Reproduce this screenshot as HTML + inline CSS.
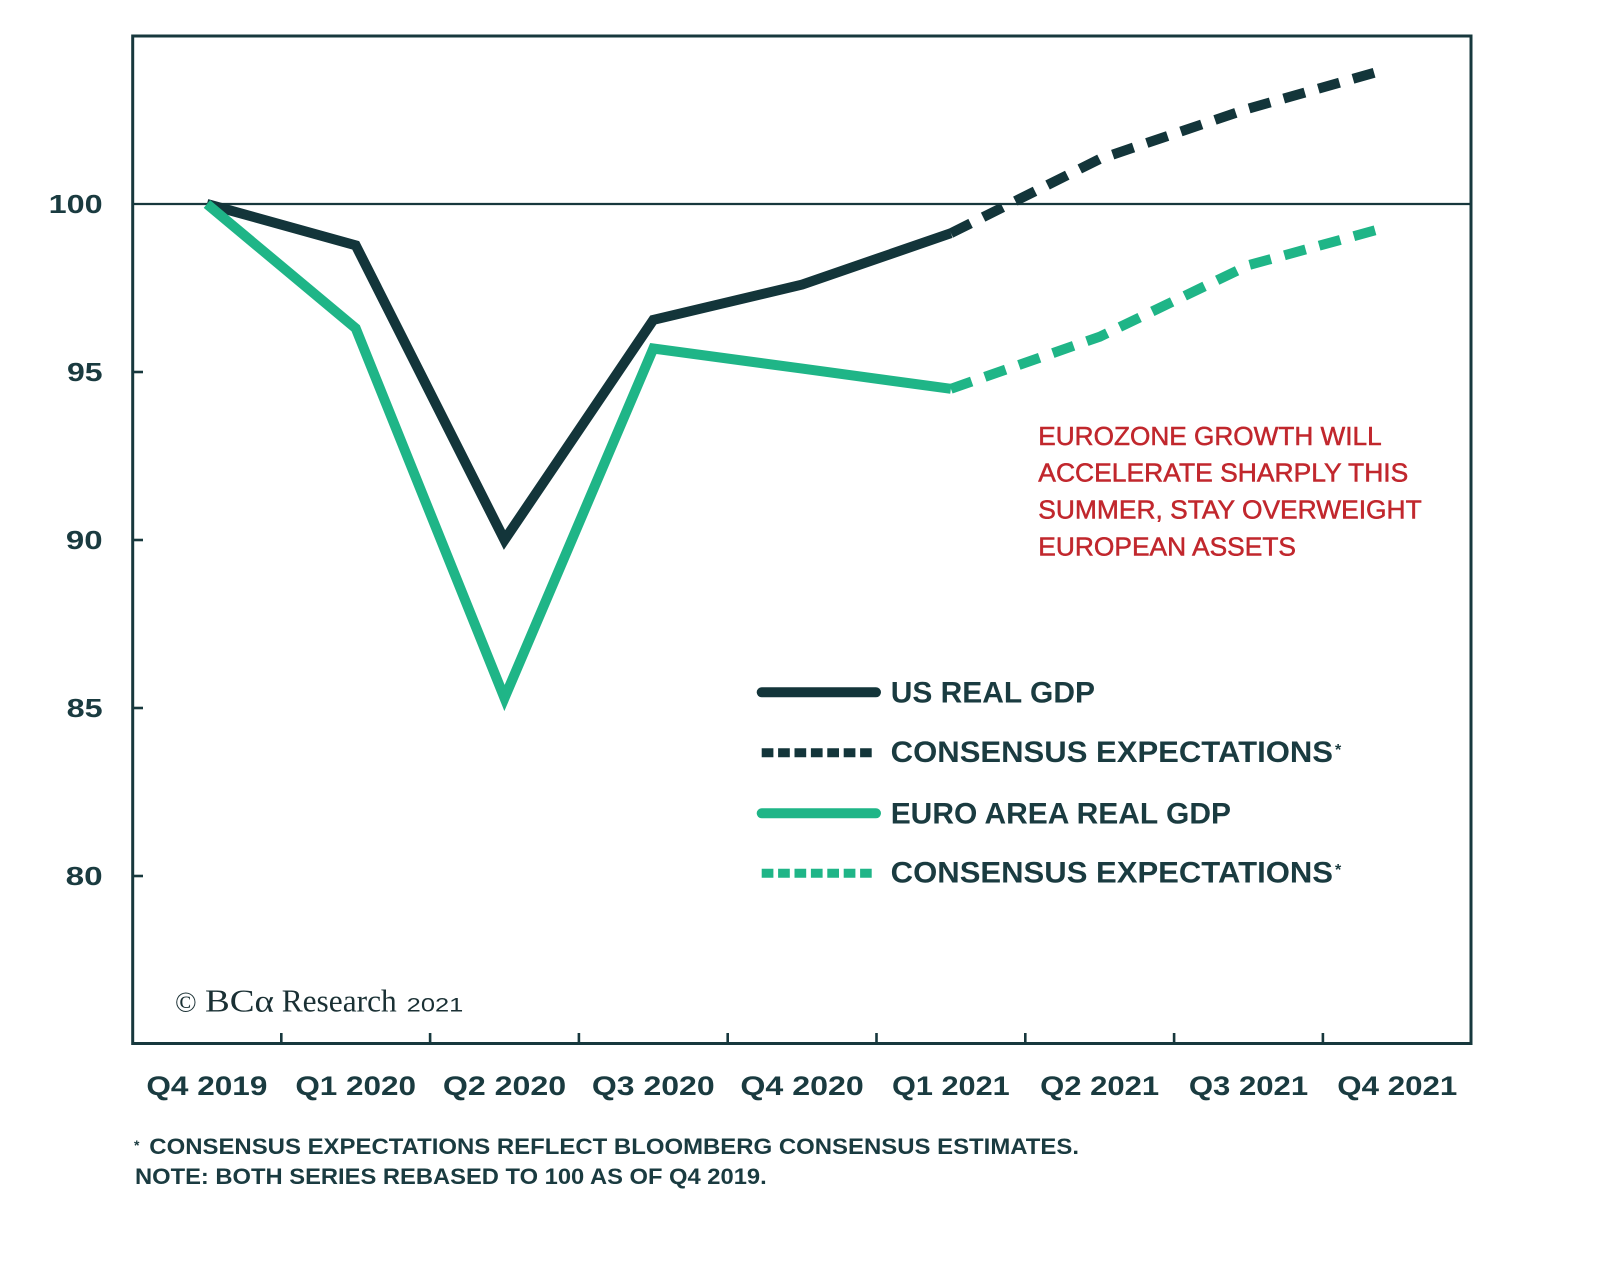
<!DOCTYPE html>
<html>
<head>
<meta charset="utf-8">
<style>
  html, body { margin: 0; padding: 0; background: #ffffff; }
  svg { display: block; }
  .ax { font-family: "Liberation Sans", sans-serif; font-weight: bold; fill: #1a3b40; }
  .lg { font-family: "Liberation Sans", sans-serif; font-weight: bold; fill: #1a3b40; }
  .an { font-family: "Liberation Sans", sans-serif; font-weight: normal; fill: #c1272d; stroke: #c1272d; stroke-width: 0.5; }
  .fn { font-family: "Liberation Sans", sans-serif; font-weight: bold; fill: #1a3b40; }
  .sf { font-family: "Liberation Serif", serif; fill: #1a3034; }
</style>
</head>
<body>
<svg width="1600" height="1274" viewBox="0 0 1600 1274" xmlns="http://www.w3.org/2000/svg">
  <rect x="0" y="0" width="1600" height="1274" fill="#ffffff"/>

  <!-- 100 gridline -->
  <line x1="133" y1="204" x2="1471" y2="204" stroke="#17383d" stroke-width="2.2"/>

  <!-- y ticks -->
  <g stroke="#17383d" stroke-width="2.6">
    <line x1="133" y1="372" x2="143" y2="372"/>
    <line x1="133" y1="540" x2="143" y2="540"/>
    <line x1="133" y1="708" x2="143" y2="708"/>
    <line x1="133" y1="876" x2="143" y2="876"/>
  </g>

  <!-- x ticks -->
  <g stroke="#17383d" stroke-width="2.6">
    <line x1="281.3" y1="1043" x2="281.3" y2="1033"/>
    <line x1="430.1" y1="1043" x2="430.1" y2="1033"/>
    <line x1="578.9" y1="1043" x2="578.9" y2="1033"/>
    <line x1="727.7" y1="1043" x2="727.7" y2="1033"/>
    <line x1="876.5" y1="1043" x2="876.5" y2="1033"/>
    <line x1="1025.3" y1="1043" x2="1025.3" y2="1033"/>
    <line x1="1174.1" y1="1043" x2="1174.1" y2="1033"/>
    <line x1="1322.9" y1="1043" x2="1322.9" y2="1033"/>
  </g>

  <!-- frame -->
  <rect x="132.7" y="36" width="1338.3" height="1007.5" fill="none" stroke="#17383d" stroke-width="3"/>

  <!-- y labels -->
  <g class="ax" font-size="26" text-anchor="end">
    <text x="102.6" y="213" textLength="54" lengthAdjust="spacingAndGlyphs">100</text>
    <text x="102.6" y="381" textLength="35.6" lengthAdjust="spacingAndGlyphs">95</text>
    <text x="102.6" y="549" textLength="36.7" lengthAdjust="spacingAndGlyphs">90</text>
    <text x="102.6" y="717" textLength="36" lengthAdjust="spacingAndGlyphs">85</text>
    <text x="102.6" y="885" textLength="37" lengthAdjust="spacingAndGlyphs">80</text>
  </g>

  <!-- x labels -->
  <g class="ax" font-size="27" text-anchor="middle">
    <text x="206.9" y="1095" textLength="121" lengthAdjust="spacingAndGlyphs">Q4 2019</text>
    <text x="355.7" y="1095" textLength="120.7" lengthAdjust="spacingAndGlyphs">Q1 2020</text>
    <text x="504.5" y="1095" textLength="123.3" lengthAdjust="spacingAndGlyphs">Q2 2020</text>
    <text x="653.3" y="1095" textLength="122.7" lengthAdjust="spacingAndGlyphs">Q3 2020</text>
    <text x="802.1" y="1095" textLength="123.4" lengthAdjust="spacingAndGlyphs">Q4 2020</text>
    <text x="950.9" y="1095" textLength="117.7" lengthAdjust="spacingAndGlyphs">Q1 2021</text>
    <text x="1099.7" y="1095" textLength="119" lengthAdjust="spacingAndGlyphs">Q2 2021</text>
    <text x="1248.5" y="1095" textLength="119.3" lengthAdjust="spacingAndGlyphs">Q3 2021</text>
    <text x="1397.3" y="1095" textLength="120" lengthAdjust="spacingAndGlyphs">Q4 2021</text>
  </g>

  <!-- US solid -->
  <polyline points="206.9,204 355.7,245.3 504.5,540 653.3,319.9 802.1,284.6 950.9,233.2"
            fill="none" stroke="#13353a" stroke-width="10" stroke-linejoin="miter" stroke-miterlimit="10"/>
  <!-- Euro solid -->
  <polyline points="206.9,204 355.7,328.3 504.5,698 653.3,348.5 802.1,368.6 950.9,388.8"
            fill="none" stroke="#1fb587" stroke-width="10" stroke-linejoin="miter" stroke-miterlimit="10"/>

  <!-- US dashed -->
  <polyline points="950.9,233.2 1099.7,159 1248.5,108.6 1386,69.4"
            fill="none" stroke="#13353a" stroke-width="10" stroke-dasharray="22 14" stroke-linejoin="miter"/>
  <!-- Euro dashed -->
  <polyline points="950.9,388.8 1099.7,336.7 1248.5,265.2 1386,227.3"
            fill="none" stroke="#1fb587" stroke-width="10" stroke-dasharray="22 14" stroke-linejoin="miter"/>

  <!-- annotation -->
  <g class="an" font-size="26">
    <text x="1038.3" y="445" textLength="343.4" lengthAdjust="spacingAndGlyphs">EUROZONE GROWTH WILL</text>
    <text x="1038.3" y="481.7" textLength="370" lengthAdjust="spacingAndGlyphs">ACCELERATE SHARPLY THIS</text>
    <text x="1038.3" y="518.3" textLength="383.4" lengthAdjust="spacingAndGlyphs">SUMMER, STAY OVERWEIGHT</text>
    <text x="1038.3" y="555.7" textLength="257.7" lengthAdjust="spacingAndGlyphs">EUROPEAN ASSETS</text>
  </g>

  <!-- legend -->
  <line x1="761.7" y1="692.3" x2="876" y2="692.3" stroke="#13353a" stroke-width="10" stroke-linecap="round"/>
  <line x1="761.7" y1="752.7" x2="871.7" y2="752.7" stroke="#13353a" stroke-width="9" stroke-dasharray="11.7 4.7"/>
  <line x1="761.7" y1="813.3" x2="876" y2="813.3" stroke="#1fb587" stroke-width="10" stroke-linecap="round"/>
  <line x1="761.7" y1="873.3" x2="871.7" y2="873.3" stroke="#1fb587" stroke-width="9" stroke-dasharray="11.7 4.7"/>

  <g class="lg" font-size="30">
    <text x="890.7" y="702.7" textLength="204.3" lengthAdjust="spacingAndGlyphs">US REAL GDP</text>
    <text x="890.7" y="762.2" textLength="442.3" lengthAdjust="spacingAndGlyphs">CONSENSUS EXPECTATIONS</text>
    <text x="890.7" y="823.3" textLength="340.3" lengthAdjust="spacingAndGlyphs">EURO AREA REAL GDP</text>
    <text x="890.7" y="882.7" textLength="442.3" lengthAdjust="spacingAndGlyphs">CONSENSUS EXPECTATIONS</text>
  </g>
  <g class="lg" font-size="16">
    <text x="1335" y="755">*</text>
    <text x="1335" y="875">*</text>
  </g>

  <!-- copyright -->
  <text class="sf" x="175" y="1011.7" font-size="28" textLength="21.7" lengthAdjust="spacingAndGlyphs">©</text>
  <text class="sf" x="205" y="1011.7" font-size="32" textLength="69" lengthAdjust="spacingAndGlyphs">BCα</text>
  <text class="sf" x="281.7" y="1011.7" font-size="32" textLength="115" lengthAdjust="spacingAndGlyphs">Research</text>
  <text x="406.7" y="1011.7" font-size="19" textLength="56.6" lengthAdjust="spacingAndGlyphs" font-family="Liberation Sans, sans-serif" fill="#1a3034">2021</text>

  <!-- footnotes -->
  <g class="fn" font-size="22">
    <text x="134" y="1150" font-size="14">*</text>
    <text x="149.3" y="1154" textLength="929.7" lengthAdjust="spacingAndGlyphs">CONSENSUS EXPECTATIONS REFLECT BLOOMBERG CONSENSUS ESTIMATES.</text>
    <text x="135" y="1184" textLength="631.7" lengthAdjust="spacingAndGlyphs">NOTE: BOTH SERIES REBASED TO 100 AS OF Q4 2019.</text>
  </g>
</svg>
</body>
</html>
